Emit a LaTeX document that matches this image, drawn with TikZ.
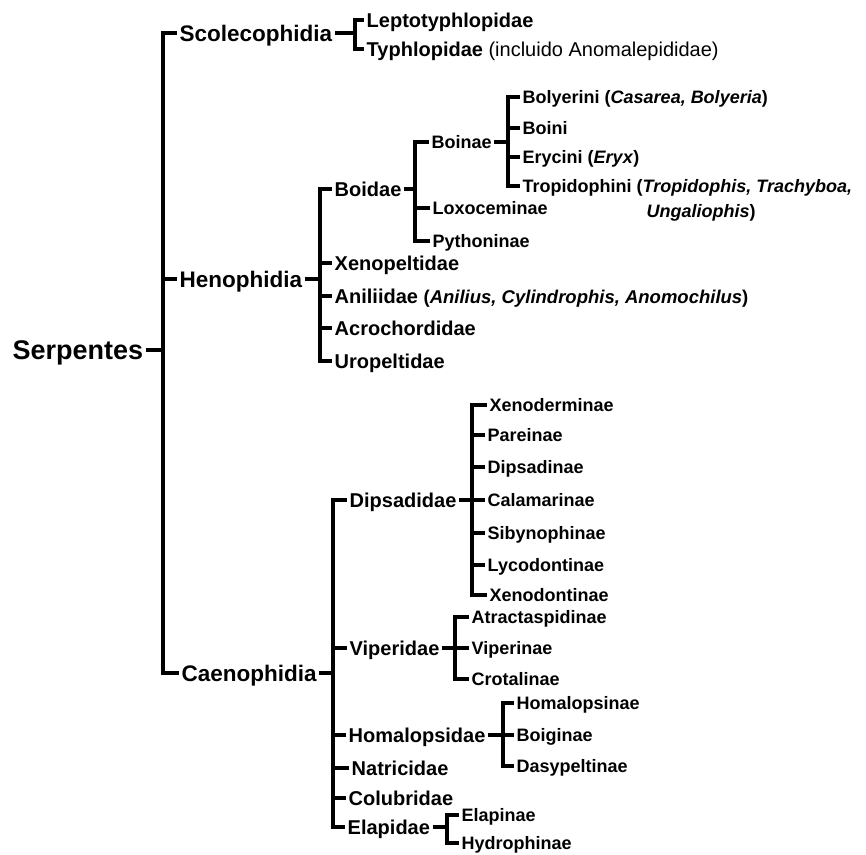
\documentclass[tikz,border=0pt]{standalone}
\usepackage{fontspec}
\setmainfont{Liberation Sans}
\tikzset{
  clade/.style={line width=3.2pt, line join=miter},
  taxon/.style={anchor=west, inner xsep=2.5pt, inner ysep=0pt, text depth=0pt},
  root/.style={taxon, text height=19.5pt, font=\fontsize{27}{30}\selectfont\bfseries},
  infra/.style={taxon, text height=16pt, font=\fontsize{22.5}{26}\selectfont\bfseries},
  fam/.style={taxon, text height=14.5pt, font=\fontsize{20}{24}\selectfont\bfseries},
  subfam/.style={taxon, text height=13pt, font=\fontsize{18}{22}\selectfont\bfseries}
}
% tick from the parent over to its spine, then one branch out to every child
\newcommand{\clade}[3]{%
  \foreach \c in {#3}{
    \draw[clade] (#1.east) -- (#1.east -| #2) |- (\c.west);
  }
}

\begin{document}
\begin{tikzpicture}[x=1pt,y=-1pt]
  \useasboundingbox (0,0) rectangle (866,854);

  % spines
  \coordinate (sp-main) at (163,0);
  \coordinate (sp-scol) at (355,0);
  \coordinate (sp-henoph) at (320,0);
  \coordinate (sp-boid) at (415,0);
  \coordinate (sp-boin) at (508,0);
  \coordinate (sp-caeno) at (333,0);
  \coordinate (sp-dipsad) at (472,0);
  \coordinate (sp-viper) at (455,0);
  \coordinate (sp-homal) at (503,0);
  \coordinate (sp-elap) at (447,0);

  \node[root] (serp) at (10,350) {Serpentes};

  \node[infra] (scol) at (177,33) {Scolecophidia};
  \node[infra] (henoph) at (177,279) {Henophidia};
  \node[infra] (caeno) at (179,673) {Caenophidia};

  % Scolecophidia
  \node[fam] (lepto) at (364,20) {Leptotyphlopidae};
  \node[fam] (typhl) at (364,49) {Typhlopidae {\mdseries(incluido Anomalepididae)}};

  % Henophidia
  \node[fam] (boid) at (332,189) {Boidae};
  \node[fam] (xenop) at (332,263) {Xenopeltidae};
  \node[fam] (anil) at (332,296) {Aniliidae {\fontsize{18.5}{22}\selectfont(\textit{Anilius, Cylindrophis, Anomochilus})}};
  \node[fam] (acro) at (332,328) {Acrochordidae};
  \node[fam] (urop) at (332,361) {Uropeltidae};

  \node[subfam] (boin) at (429,142) {Boinae};
  \node[subfam] (loxo) at (430,208) {Loxoceminae};
  \node[subfam] (python) at (430,241) {Pythoninae};

  \node[subfam] (bolyer) at (520,97) {Bolyerini (\textit{Casarea, Bolyeria})};
  \node[subfam] (boini) at (520,128) {Boini};
  \node[subfam] (eryc) at (520,157) {Erycini (\textit{Eryx})};
  \node[subfam] (tropid) at (520,186) {Tropidophini (\textit{Tropidophis, Trachyboa,}};
  \node[subfam] (ungal) at (644,211) {\textit{Ungaliophis})};

  % Caenophidia
  \node[fam] (dipsad) at (347,500) {Dipsadidae};
  \node[fam] (viper) at (347,648) {Viperidae};
  \node[fam] (homal) at (346,735) {Homalopsidae};
  \node[fam] (natric) at (349,768) {Natricidae};
  \node[fam] (colub) at (346,798) {Colubridae};
  \node[fam] (elap) at (345,827) {Elapidae};

  \node[subfam] (xenod) at (487,405) {Xenoderminae};
  \node[subfam] (parei) at (485,435) {Pareinae};
  \node[subfam] (dipsin) at (485,467) {Dipsadinae};
  \node[subfam] (calam) at (485,500) {Calamarinae};
  \node[subfam] (sibyn) at (485,533) {Sibynophinae};
  \node[subfam] (lycod) at (485,565) {Lycodontinae};
  \node[subfam] (xenodont) at (487,595) {Xenodontinae};

  \node[subfam] (atract) at (469,617) {Atractaspidinae};
  \node[subfam] (viperin) at (469,648) {Viperinae};
  \node[subfam] (crotal) at (469,679) {Crotalinae};

  \node[subfam] (homalin) at (514,703) {Homalopsinae};
  \node[subfam] (boigin) at (514,735) {Boiginae};
  \node[subfam] (dasyp) at (514,766) {Dasypeltinae};

  \node[subfam] (elapin) at (459,815) {Elapinae};
  \node[subfam] (hydro) at (459,843) {Hydrophinae};

  % brackets
  \clade{serp}{sp-main}{scol,henoph,caeno}
  \clade{scol}{sp-scol}{lepto,typhl}
  \clade{henoph}{sp-henoph}{boid,xenop,anil,acro,urop}
  \clade{boid}{sp-boid}{boin,loxo,python}
  \clade{boin}{sp-boin}{bolyer,boini,eryc,tropid}
  \clade{caeno}{sp-caeno}{dipsad,viper,homal,natric,colub,elap}
  \clade{dipsad}{sp-dipsad}{xenod,parei,dipsin,calam,sibyn,lycod,xenodont}
  \clade{viper}{sp-viper}{atract,viperin,crotal}
  \clade{homal}{sp-homal}{homalin,boigin,dasyp}
  \clade{elap}{sp-elap}{elapin,hydro}
\end{tikzpicture}
\end{document}
